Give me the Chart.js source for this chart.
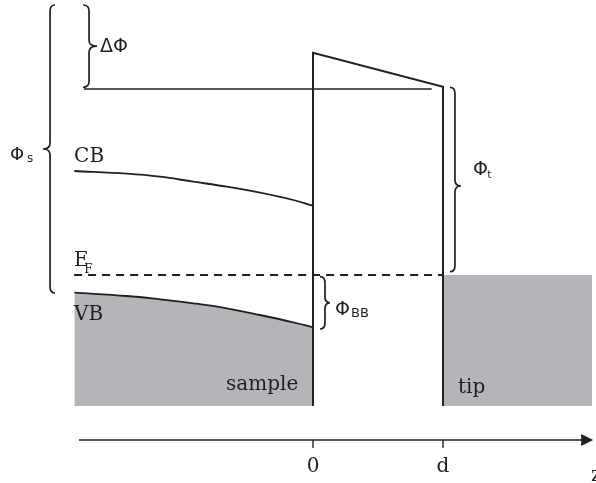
<!DOCTYPE html>
<html>
<head>
<meta charset="utf-8">
<script src="https://cdn.jsdelivr.net/npm/chart.js@4"></script>
<style>
html,body{margin:0;padding:0;background:#fff;}
#wrap{width:596px;height:483px;position:relative;}
</style>
</head>
<body>
<div id="wrap"><canvas id="c"></canvas></div>
<script>
// ---- data (z in units of d, energy relative to E_F, arbitrary units) ----
const zBand   = [-1.836, -1.433, -1.177, -0.921, -0.664, -0.408, -0.152, 0];
const cbE     = [2.08, 2.026, 1.966, 1.866, 1.766, 1.646, 1.5, 1.386];
const vbE     = [-0.354, -0.42, -0.486, -0.566, -0.666, -0.8, -0.946, -1.046];
const barrierZ = [0, 0, 1, 1];
const barrierE = [-2.62, 4.446, 3.766, -2.62];
const vacZ = [-1.762, 0.913];
const vacE = [3.72, 3.72];
const fermiZ = [-1.838, 1];
const tipZ = [1, 2.146];
const tipE = [0, 0];
const bandBottom = -2.62;
const axisE = -3.3;
const axisZ = [-1.80, 2.14];
const tickZ = [0, 1];
const tickLabels = ['0', 'd'];

const INK = '#231f20';
const GRAY = '#b3b5b8';

const pts = (xs, ys) => xs.map((x, i) => ({x, y: ys[i]}));

const braces = [
  {x: -2.023, y1: 5.4,   y2: -0.36, dir: -1, tip: 7, end: 5},
  {x: -1.723, y1: 5.4,   y2: 3.754, dir: 1,  tip: 8, end: 6},
  {x: 1.092,  y1: 3.754, y2: 0.066, dir: 1,  tip: 6, end: 5, ym: 1.78},
  {x: 0.092,  y1: -0.034,y2: -1.08, dir: 1,  tip: 5, end: 5}
];

const labels = [
  {t: 'CB', x: -1.838, y: 2.266, f: '20px "DejaVu Serif"'},
  {t: 'E', x: -1.838, y: 0.18, f: '20px "DejaVu Serif"'},
  {t: 'F', x: -1.76, y: 0.05, f: '12px "DejaVu Serif"'},
  {t: 'VB', x: -1.838, y: -0.9, f: '20px "DejaVu Serif"'},
  {t: 'sample', x: -0.669, y: -2.3, f: '20px "DejaVu Serif"'},
  {t: 'tip', x: 1.115, y: -2.36, f: '20px "DejaVu Serif"'},
  {t: 'z', x: 2.138, y: -4.12, f: '20px "DejaVu Serif"'},
  {t: 'ΔΦ', x: -1.638, y: 4.466, f: '19px "DejaVu Sans"'},
  {t: 'Φ', x: -2.331, y: 2.3, f: '18px "DejaVu Sans"'},
  {t: 's', x: -2.2, y: 2.26, f: '12px "DejaVu Sans"'},
  {t: 'Φ', x: 1.231, y: 2.0, f: '19px "DejaVu Sans"'},
  {t: 't', x: 1.34, y: 1.94, f: '11px "DejaVu Sans"'},
  {t: 'Φ', x: 0.169, y: -0.8, f: '19px "DejaVu Sans"'},
  {t: 'BB', x: 0.292, y: -0.84, f: '13px "DejaVu Sans"'}
];

const overlay = {
  id: 'overlay',
  afterDatasetsDraw(chart) {
    const ctx = chart.ctx, xs = chart.scales.x, ys = chart.scales.y;
    ctx.save();
    ctx.strokeStyle = INK; ctx.fillStyle = INK;
    // axis
    const ay = ys.getPixelForValue(axisE);
    ctx.lineWidth = 1.4;
    ctx.beginPath();
    ctx.moveTo(xs.getPixelForValue(axisZ[0]), ay);
    ctx.lineTo(xs.getPixelForValue(axisZ[1]), ay);
    ctx.stroke();
    const ax = xs.getPixelForValue(axisZ[1]);
    ctx.beginPath();
    ctx.moveTo(ax - 10, ay - 6);
    ctx.lineTo(ax + 2, ay);
    ctx.lineTo(ax - 10, ay + 6);
    ctx.closePath();
    ctx.fill();
    tickZ.forEach((z, i) => {
      const px = xs.getPixelForValue(z);
      ctx.beginPath(); ctx.moveTo(px, ay); ctx.lineTo(px, ay + 8); ctx.stroke();
      ctx.font = '20px "DejaVu Serif"';
      ctx.textAlign = 'center'; ctx.textBaseline = 'alphabetic';
      ctx.fillText(tickLabels[i], px, ys.getPixelForValue(-3.934));
    });
    // braces
    ctx.lineWidth = 1.7;
    braces.forEach(b => {
      const xsP = xs.getPixelForValue(b.x);
      const y1 = ys.getPixelForValue(b.y1), y2 = ys.getPixelForValue(b.y2);
      const ym = b.ym !== undefined ? ys.getPixelForValue(b.ym) : (y1 + y2) / 2;
      const xe = xsP - b.dir * b.end, xt = xsP + b.dir * b.tip;
      const r = 6;
      ctx.beginPath();
      ctx.moveTo(xe, y1);
      ctx.quadraticCurveTo(xsP, y1, xsP, y1 + r);
      ctx.lineTo(xsP, ym - r);
      ctx.quadraticCurveTo(xsP, ym, xt, ym);
      ctx.quadraticCurveTo(xsP, ym, xsP, ym + r);
      ctx.lineTo(xsP, y2 - r);
      ctx.quadraticCurveTo(xsP, y2, xe, y2);
      ctx.stroke();
    });
    // labels
    ctx.textAlign = 'left'; ctx.textBaseline = 'alphabetic';
    labels.forEach(l => {
      ctx.font = l.f;
      ctx.fillText(l.t, xs.getPixelForValue(l.x), ys.getPixelForValue(l.y));
    });
    ctx.restore();
  }
};

new Chart(document.getElementById('c'), {
  type: 'scatter',
  data: {
    datasets: [
      {data: pts(barrierZ, barrierE), showLine: true, borderColor: INK, borderWidth: 2, pointRadius: 0, tension: 0, fill: false},
      {data: pts(vacZ, vacE), showLine: true, borderColor: INK, borderWidth: 1.3, pointRadius: 0, fill: false},
      {data: pts(fermiZ, [0, 0]), showLine: true, borderColor: INK, borderWidth: 2, borderDash: [8, 6], pointRadius: 0, fill: false},
      {data: pts(zBand, cbE), showLine: true, borderColor: INK, borderWidth: 1.8, pointRadius: 0, tension: 0.4, fill: false},
      {data: pts(zBand, vbE), showLine: true, borderColor: INK, borderWidth: 1.8, pointRadius: 0, tension: 0.4, fill: {value: bandBottom}, backgroundColor: GRAY},
      {data: pts(tipZ, tipE), showLine: true, borderColor: GRAY, borderWidth: 0, pointRadius: 0, fill: {value: bandBottom}, backgroundColor: GRAY}
    ]
  },
  options: {
    responsive: true, maintainAspectRatio: false, animation: false,
    layout: {padding: 0},
    plugins: {legend: {display: false}, tooltip: {enabled: false}},
    scales: {
      x: {type: 'linear', display: false, min: -2.408, max: 2.177},
      y: {type: 'linear', display: false, min: -4.16, max: 5.5}
    },
    clip: false
  },
  plugins: [overlay]
});
</script>
</body>
</html>
